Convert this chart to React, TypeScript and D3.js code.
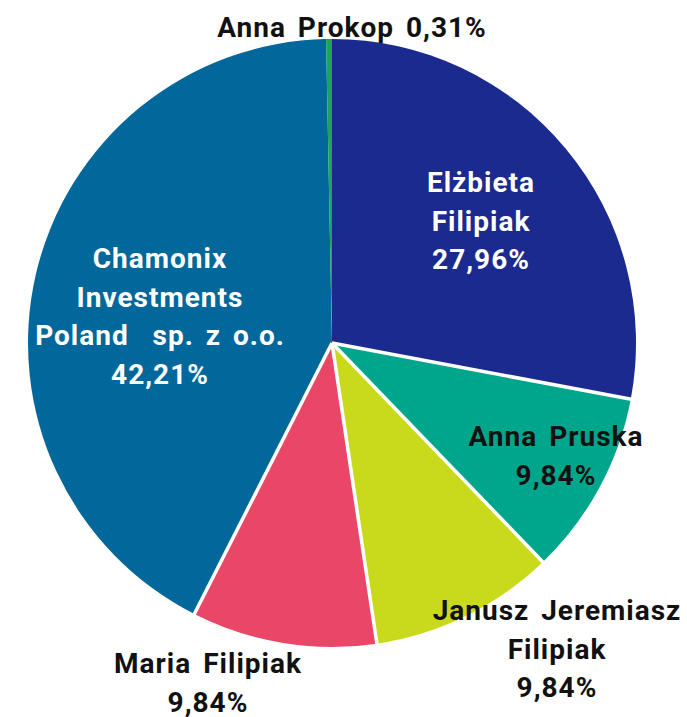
import React from "react";
import * as d3 from "d3";

const names = [
  "Elżbieta Filipiak",
  "Anna Pruska",
  "Janusz Jeremiasz Filipiak",
  "Maria Filipiak",
  "Chamonix Investments Poland sp. z o.o.",
  "Anna Prokop",
];
const shares = [27.96, 9.84, 9.84, 9.84, 42.21, 0.31];
const colors = ["#1b2a8e", "#00a68b", "#c9da1d", "#ea4668", "#02679b", "#1ea55b"];
const labelLines = [
  ["Elżbieta", "Filipiak", "27,96%"],
  ["Anna Pruska", "9,84%"],
  ["Janusz Jeremiasz", "Filipiak", "9,84%"],
  ["Maria Filipiak", "9,84%"],
  ["Chamonix", "Investments", "Poland  sp. z o.o.", "42,21%"],
  ["Anna Prokop 0,31%"],
];
const labelColors = ["#fff", "#111", "#111", "#111", "#fff", "#111"];
// label anchor: [x, y of first line] in chart pixels
const labelPos: [number, number][] = [
  [481, 192],
  [556, 446],
  [557, 620],
  [208, 673],
  [160, 268],
  [352, 37],
];

const width = 687;
const height = 717;
const cx = 332;
const cy = 343;
const radius = 304;
const lineH = 38.5;

export default function App() {
  const pie = d3
    .pie<number>()
    .sort(null)
    .value((d) => d);
  const arcs = pie(shares);
  const arc = d3.arc<d3.PieArcDatum<number>>().innerRadius(0).outerRadius(radius);

  // white separators between the larger slices
  const seps = [1, 2, 3, 4].map((i) => arcs[i].startAngle);

  return (
    <svg width={width} height={height} style={{ position: "absolute", left: 0, top: 0 }}>
      <rect width={width} height={height} fill="#fff" />
      <g transform={`translate(${cx},${cy})`}>
        {arcs.map((a, i) => (
          <path key={i} d={arc(a) || ""} fill={colors[i]}>
            <title>{names[i]}</title>
          </path>
        ))}
        {seps.map((ang, i) => (
          <line
            key={i}
            x1={0}
            y1={0}
            x2={Math.sin(ang) * (radius + 2)}
            y2={-Math.cos(ang) * (radius + 2)}
            stroke="#fff"
            strokeWidth={3.5}
          />
        ))}
      </g>
      {labelLines.map((lines, i) => (
        <text
          key={i}
          x={labelPos[i][0]}
          y={labelPos[i][1]}
          textAnchor="middle"
          fill={labelColors[i]}
          fontFamily="Roboto, 'Liberation Sans', sans-serif"
          fontWeight={700}
          fontSize={28}
          letterSpacing={1}
          style={{ wordSpacing: "4px" }}
        >
          {lines.map((t, j) => (
            <tspan key={j} x={labelPos[i][0]} dy={j === 0 ? 0 : lineH} xmlSpace="preserve">
              {t}
            </tspan>
          ))}
        </text>
      ))}
    </svg>
  );
}
